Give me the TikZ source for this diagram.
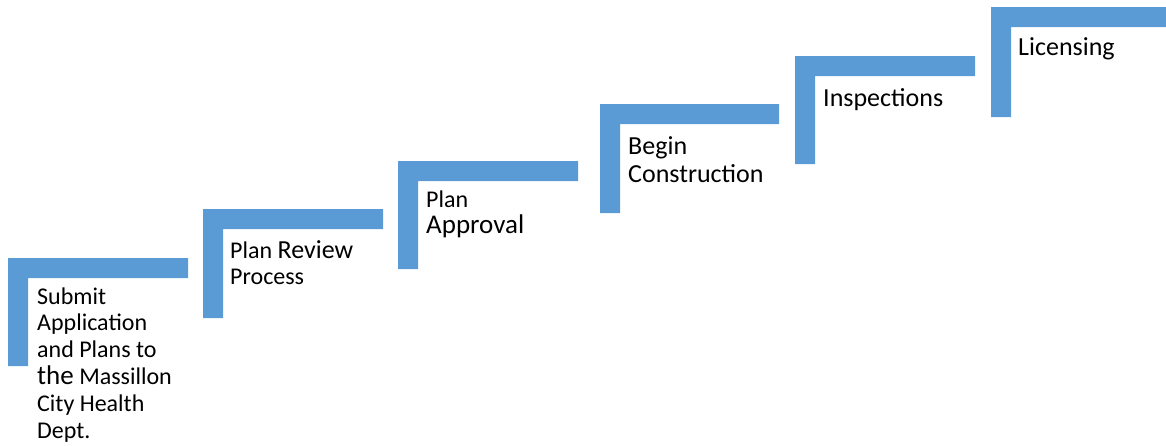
\documentclass[tikz,border=0pt]{standalone}
\usepackage{fontspec}
\setmainfont{Carlito}
\definecolor{stepblue}{HTML}{5B9BD5}
\tikzset{
  stair/.style={fill=stepblue, draw=none},
  lbl/.style={anchor=base west, inner sep=0pt, align=left, text=black},
}
\newcommand{\stairL}[5]{% x0, top, right, bottom, thickness
  \fill[stair] (#1,#2) -- (#3,#2) -- (#3,#2+#5) -- (#1+#5,#2+#5) -- (#1+#5,#4) -- (#1,#4) -- cycle;
}
\begin{document}
\begin{tikzpicture}[x=1pt,y=-1pt]
\useasboundingbox (0,0) rectangle (1166,445);
\stairL{8}{258}{188}{366}{20}
\stairL{203}{209}{383}{318}{20}
\stairL{398}{161}{578}{269}{20}
\stairL{600}{104}{779}{213}{20}
\stairL{795}{56}{975}{164}{20}
\stairL{991}{7}{1166}{117}{20}

% base anchor of a multi-line node = baseline of its last line
\node[lbl, font=\fontsize{24}{26.8}\selectfont] (t1) at (37,438)
  {Submit\\Application\\and Plans to\\{\fontsize{27}{26.8}\selectfont the} Massillon\\City Health\\Dept.};
\node[lbl, font=\fontsize{24}{26}\selectfont] (t2) at (230,284)
  {Plan {\fontsize{26}{26}\selectfont Review}\\Process};
\node[lbl, font=\fontsize{24}{26}\selectfont] (t3) at (426,233)
  {Plan\\{\fontsize{27}{26}\selectfont Approval}};
\node[lbl, font=\fontsize{26}{28}\selectfont] (t4) at (628,182)
  {Begin\\Construction};
\node[lbl, font=\fontsize{26}{28}\selectfont] (t5) at (823,106)
  {Inspections};
\node[lbl, font=\fontsize{26}{28}\selectfont] (t6) at (1018,55)
  {Licensing};
\end{tikzpicture}
\end{document}
